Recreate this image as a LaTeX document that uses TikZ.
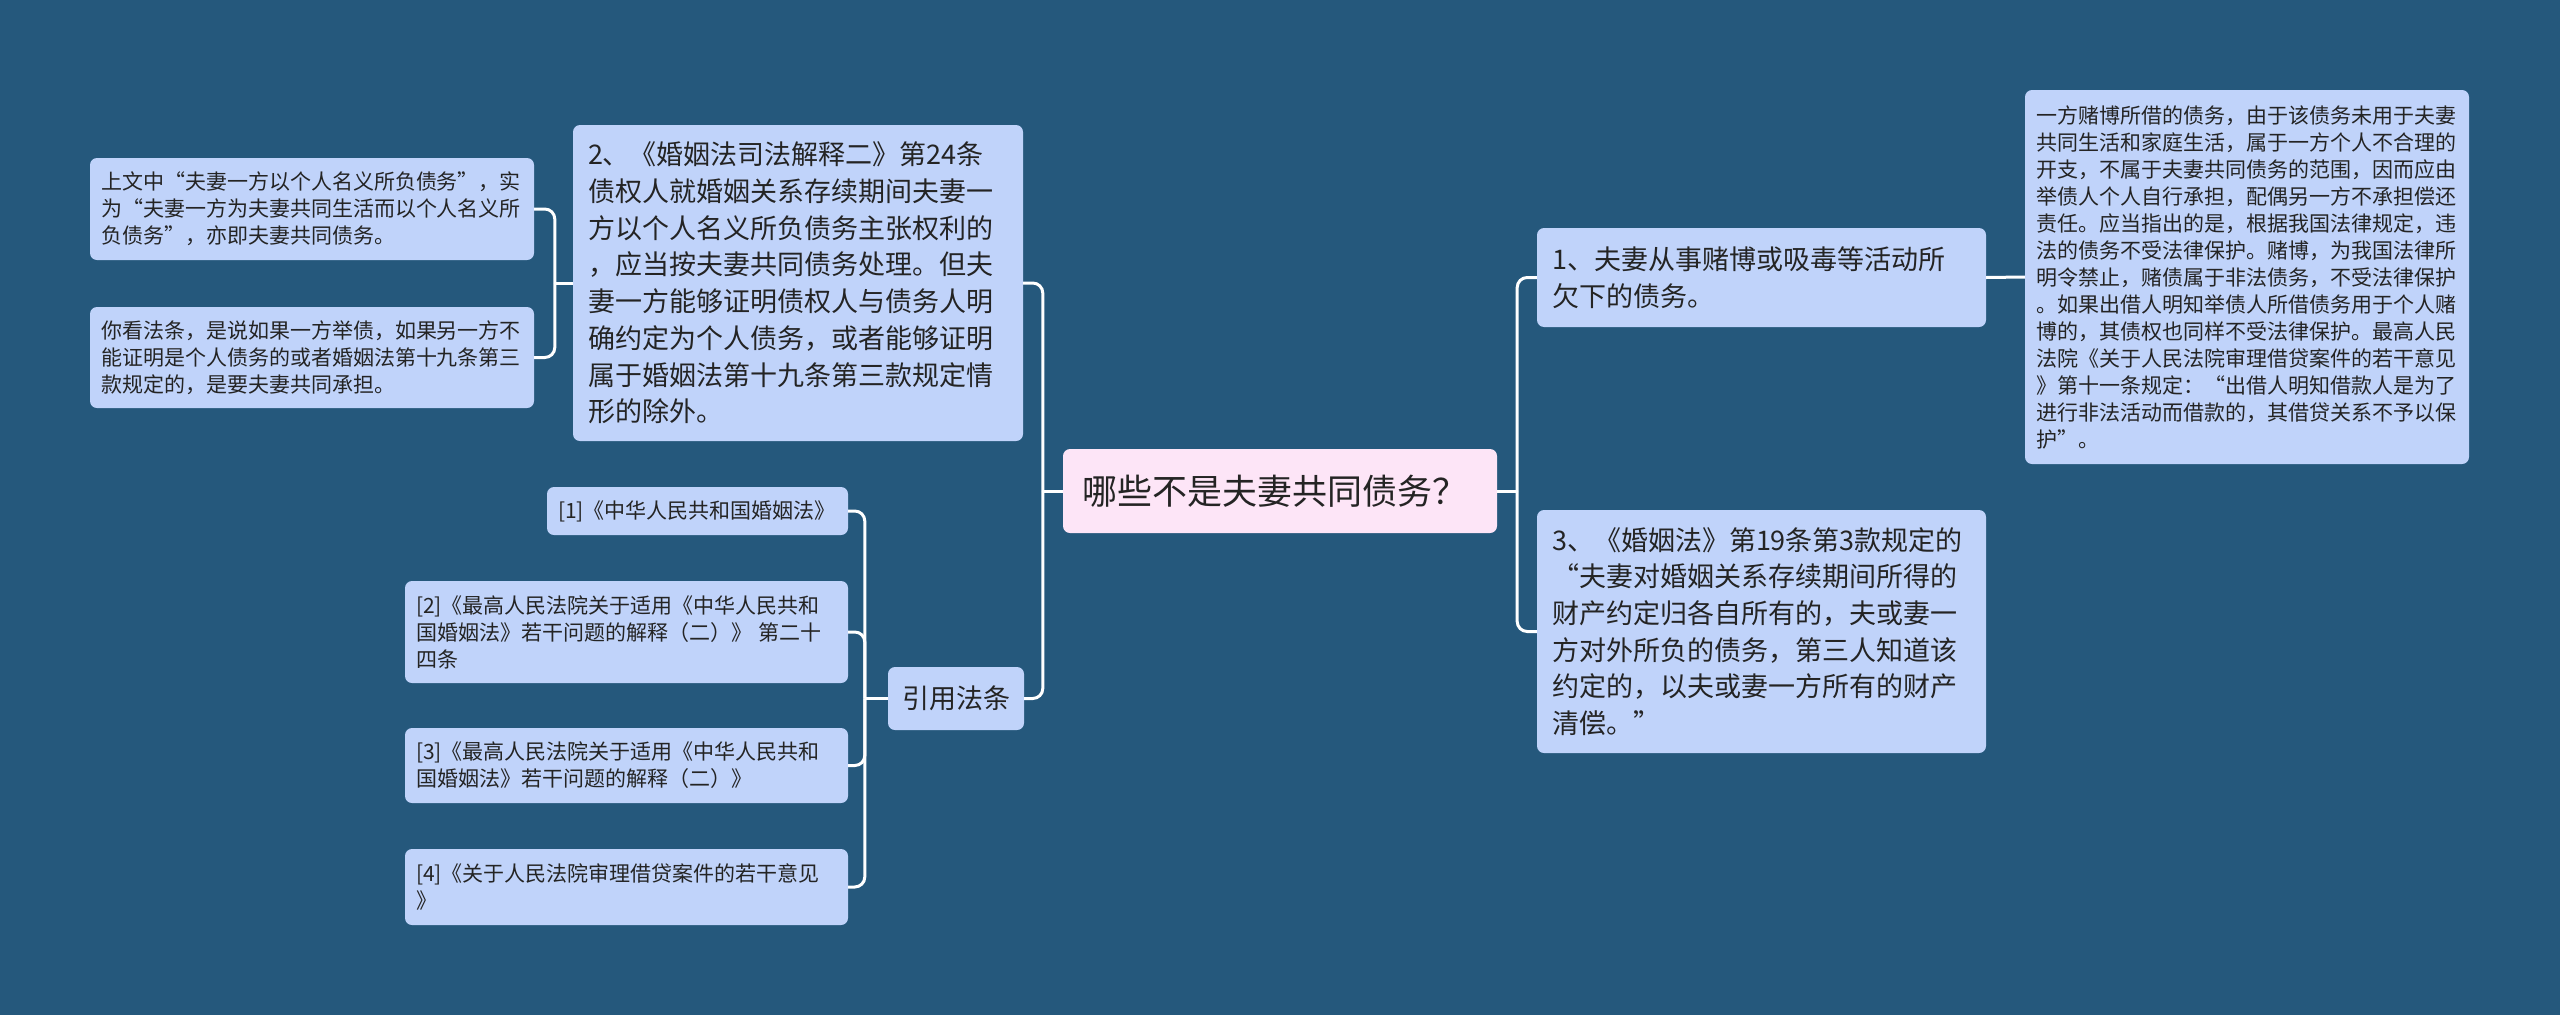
\documentclass[tikz,border=0pt]{standalone}
\usepackage{fontspec}
\setmainfont{Noto Sans CJK SC}
\usepackage{xcolor}
\usepackage{tikz}
\usetikzlibrary{positioning}
\definecolor{deepsea}{RGB}{37,88,124}
\definecolor{petal}{RGB}{253,229,247}
\definecolor{frost}{RGB}{192,211,250}
\definecolor{ink}{RGB}{36,36,36}

\begin{document}
\begin{tikzpicture}[x=1pt, y=-1pt,
  card/.style={fill=frost, rounded corners=7pt, text=ink, align=left, inner ysep=0pt},
  big/.style={card, inner xsep=15pt, font=\fontsize{27}{36.7}\selectfont},
  small/.style={card, inner xsep=11pt, font=\fontsize{21}{27}\selectfont},
  wire/.style={draw=white, line width=3pt, rounded corners=10pt}]
\fill[deepsea] (0,0) rectangle (2560,1015);
\useasboundingbox (0,0) rectangle (2560,1015);
\node[card, fill=petal, inner xsep=19pt, text width=396pt, minimum height=84pt, font=\fontsize{35}{40}\selectfont] (root) at (1280,491) {哪些不是夫妻共同债务？};
\node[big, text width=420pt, minimum height=316pt] (interp) at (798,283) {2、《婚姻法司法解释二》第24条\\债权人就婚姻关系存续期间夫妻一\\方以个人名义所负债务主张权利的\\，应当按夫妻共同债务处理。但夫\\妻一方能够证明债权人与债务人明\\确约定为个人债务，或者能够证明\\属于婚姻法第十九条第三款规定情\\形的除外。};
\node[small, text width=422pt, minimum height=102pt] (gloss) at (312,209) {上文中“夫妻一方以个人名义所负债务”，实\\为“夫妻一方为夫妻共同生活而以个人名义所\\负债务”，亦即夫妻共同债务。};
\node[small, text width=422pt, minimum height=101pt] (reading) at (312,357.5) {你看法条，是说如果一方举债，如果另一方不\\能证明是个人债务的或者婚姻法第十九条第三\\款规定的，是要夫妻共同承担。};
\node[card, align=center, minimum width=136pt, minimum height=63pt, font=\fontsize{27}{32}\selectfont] (cite) at (956,698.5) {引用法条};
\node[small, text width=279pt, minimum height=48pt] (lawa) at (697.5,511) {[1]《中华人民共和国婚姻法》};
\node[small, text width=421pt, minimum height=102pt] (lawb) at (626.5,632) {[2]《最高人民法院关于适用《中华人民共和\\国婚姻法》若干问题的解释（二）》 第二十\\四条};
\node[small, text width=421pt, minimum height=75pt] (lawc) at (626.5,765.5) {[3]《最高人民法院关于适用《中华人民共和\\国婚姻法》若干问题的解释（二）》};
\node[small, text width=421pt, minimum height=76pt] (lawd) at (626.5,887) {[4]《关于人民法院审理借贷案件的若干意见\\》};
\node[big, text width=419pt, minimum height=99pt] (gamble) at (1761.5,277.5) {1、夫妻从事赌博或吸毒等活动所\\欠下的债务。};
\node[big, text width=419pt, minimum height=243pt] (pact) at (1761.5,631.5) {3、《婚姻法》第19条第3款规定的\\“夫妻对婚姻关系存续期间所得的\\财产约定归各自所有的，夫或妻一\\方对外所负的债务，第三人知道该\\约定的，以夫或妻一方所有的财产\\清偿。”};
\node[small, text width=422pt, minimum height=374pt] (why) at (2247,277) {一方赌博所借的债务，由于该债务未用于夫妻\\共同生活和家庭生活，属于一方个人不合理的\\开支，不属于夫妻共同债务的范围，因而应由\\举债人个人自行承担，配偶另一方不承担偿还\\责任。应当指出的是，根据我国法律规定，违\\法的债务不受法律保护。赌博，为我国法律所\\明令禁止，赌债属于非法债务，不受法律保护\\。如果出借人明知举债人所借债务用于个人赌\\博的，其债权也同样不受法律保护。最高人民\\法院《关于人民法院审理借贷案件的若干意见\\》第十一条规定：“出借人明知借款人是为了\\进行非法活动而借款的，其借贷关系不予以保\\护”。};
\coordinate[left=20pt of root.west] (jl);
\coordinate[right=20pt of root.east] (jr);
\coordinate[left=18pt of interp.west] (ji);
\coordinate[left=23pt of cite.west] (jc);
\draw[wire] (root.west) -- (jl);
\draw[wire] (jl) |- (interp.east);
\draw[wire] (jl) |- (cite.east);
\draw[wire] (root.east) -- (jr);
\draw[wire] (jr) |- (gamble.west);
\draw[wire] (jr) |- (pact.west);
\draw[wire] (gamble.east) -- (why.west);
\draw[wire] (interp.west) -- (ji);
\draw[wire] (ji) |- (gloss.east);
\draw[wire] (ji) |- (reading.east);
\draw[wire] (cite.west) -- (jc);
\foreach \leaf in {lawa, lawb, lawc, lawd}
  \draw[wire] (jc) |- (\leaf.east);
\end{tikzpicture}
\end{document}
